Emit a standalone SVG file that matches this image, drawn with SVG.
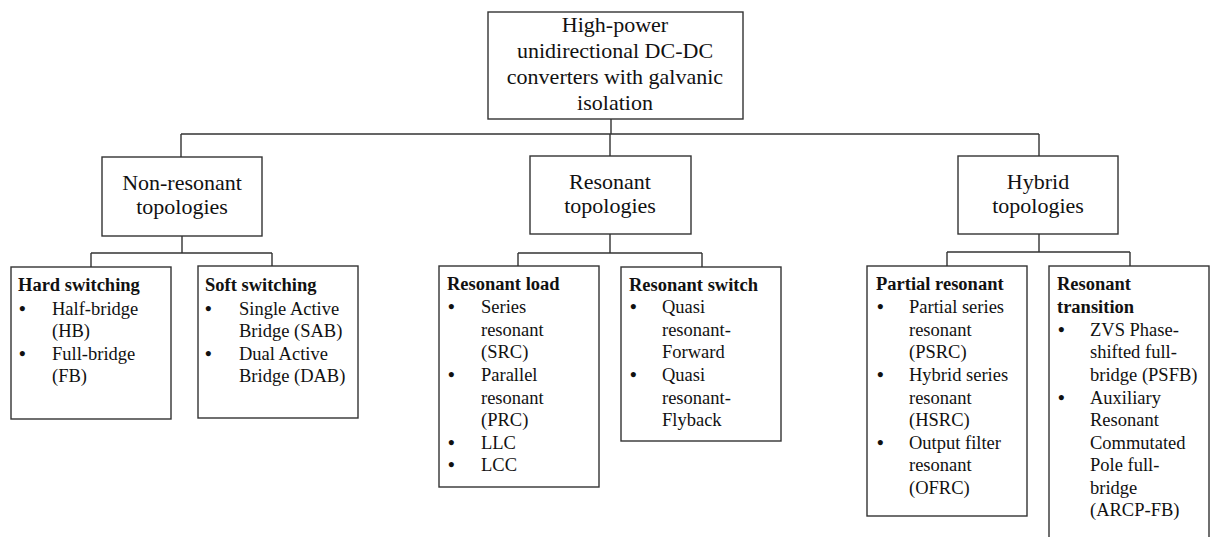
<svg xmlns="http://www.w3.org/2000/svg" width="1216" height="537" viewBox="0 0 1216 537">
<style>
.box{fill:#fff;stroke:#333;stroke-width:1.4}
.ln{fill:none;stroke:#333;stroke-width:1.4}
text{font-family:"Liberation Serif","Times New Roman",serif;fill:#111}
.big{font-size:22px;text-anchor:middle}
.leaf{font-size:18.5px}
.hd{font-weight:bold}
.bl{font-size:19px;font-weight:bold}
</style>
<rect width="1216" height="537" fill="#fff"/>
<g id="connectors">
<path class="ln" d="M611,119 V134 M181,134 H1039 M181,134 V157 M610,134 V156 M1039,134 V156"/>
<path class="ln" d="M182,236 V253 M91,253 H272 M91,253 V267 M272,253 V266"/>
<path class="ln" d="M610,234 V253 M518,253 H702 M518,253 V266 M702,253 V267"/>
<path class="ln" d="M1039,234 V252 M947,252 H1130 M947,252 V266 M1130,252 V266"/>
</g>
<g id="root">
<rect class="box" x="488" y="12" width="255" height="107"/>
<text class="big" x="615" y="32">High-power</text>
<text class="big" x="615" y="58">unidirectional DC-DC</text>
<text class="big" x="615" y="84">converters with galvanic</text>
<text class="big" x="615" y="110">isolation</text>
</g>
<g id="nonresonant">
<rect class="box" x="102" y="157" width="160" height="79"/>
<text class="big" x="182" y="190">Non-resonant</text>
<text class="big" x="182" y="214">topologies</text>
</g>
<g id="resonant">
<rect class="box" x="530" y="156" width="161" height="78"/>
<text class="big" x="610" y="189">Resonant</text>
<text class="big" x="610" y="213">topologies</text>
</g>
<g id="hybrid">
<rect class="box" x="958" y="156" width="160" height="78"/>
<text class="big" x="1038" y="189">Hybrid</text>
<text class="big" x="1038" y="213">topologies</text>
</g>
<g id="hard">
<rect class="box" x="11" y="267" width="160" height="152"/>
<text class="leaf hd" x="18" y="291">Hard switching</text>
<text class="bl" x="19" y="315">•</text><text class="leaf" x="52" y="315">Half-bridge</text>
<text class="leaf" x="52" y="337">(HB)</text>
<text class="bl" x="19" y="360">•</text><text class="leaf" x="52" y="360">Full-bridge</text>
<text class="leaf" x="52" y="382">(FB)</text>
</g>
<g id="soft">
<rect class="box" x="198" y="266" width="160" height="152"/>
<text class="leaf hd" x="205" y="291">Soft switching</text>
<text class="bl" x="205" y="315">•</text><text class="leaf" x="239" y="315">Single Active</text>
<text class="leaf" x="239" y="337">Bridge (SAB)</text>
<text class="bl" x="205" y="360">•</text><text class="leaf" x="239" y="360">Dual Active</text>
<text class="leaf" x="239" y="382">Bridge (DAB)</text>
</g>
<g id="resload">
<rect class="box" x="439" y="266" width="160" height="221"/>
<text class="leaf hd" x="447" y="290">Resonant load</text>
<text class="bl" x="448" y="313">•</text><text class="leaf" x="481" y="313">Series</text>
<text class="leaf" x="481" y="336">resonant</text>
<text class="leaf" x="481" y="358">(SRC)</text>
<text class="bl" x="448" y="381">•</text><text class="leaf" x="481" y="381">Parallel</text>
<text class="leaf" x="481" y="404">resonant</text>
<text class="leaf" x="481" y="426">(PRC)</text>
<text class="bl" x="448" y="449">•</text><text class="leaf" x="481" y="449">LLC</text>
<text class="bl" x="448" y="471">•</text><text class="leaf" x="481" y="471">LCC</text>
</g>
<g id="resswitch">
<rect class="box" x="621" y="267" width="160" height="174"/>
<text class="leaf hd" x="629" y="291">Resonant switch</text>
<text class="bl" x="630" y="313">•</text><text class="leaf" x="662" y="313">Quasi</text>
<text class="leaf" x="662" y="336">resonant-</text>
<text class="leaf" x="662" y="358">Forward</text>
<text class="bl" x="630" y="381">•</text><text class="leaf" x="662" y="381">Quasi</text>
<text class="leaf" x="662" y="404">resonant-</text>
<text class="leaf" x="662" y="426">Flyback</text>
</g>
<g id="partial">
<rect class="box" x="867" y="266" width="160" height="250"/>
<text class="leaf hd" x="876" y="290">Partial resonant</text>
<text class="bl" x="877" y="313">•</text><text class="leaf" x="909" y="313">Partial series</text>
<text class="leaf" x="909" y="336">resonant</text>
<text class="leaf" x="909" y="358">(PSRC)</text>
<text class="bl" x="877" y="381">•</text><text class="leaf" x="909" y="381">Hybrid series</text>
<text class="leaf" x="909" y="404">resonant</text>
<text class="leaf" x="909" y="426">(HSRC)</text>
<text class="bl" x="877" y="449">•</text><text class="leaf" x="909" y="449">Output filter</text>
<text class="leaf" x="909" y="471">resonant</text>
<text class="leaf" x="909" y="494">(OFRC)</text>
</g>
<g id="transition">
<rect class="box" x="1049" y="266" width="160" height="290"/>
<text class="leaf hd" x="1057" y="290">Resonant</text>
<text class="leaf hd" x="1057" y="313">transition</text>
<text class="bl" x="1058" y="336">•</text><text class="leaf" x="1090" y="336">ZVS Phase-</text>
<text class="leaf" x="1090" y="358">shifted full-</text>
<text class="leaf" x="1090" y="381">bridge (PSFB)</text>
<text class="bl" x="1058" y="404">•</text><text class="leaf" x="1090" y="404">Auxiliary</text>
<text class="leaf" x="1090" y="426">Resonant</text>
<text class="leaf" x="1090" y="449">Commutated</text>
<text class="leaf" x="1090" y="471">Pole full-</text>
<text class="leaf" x="1090" y="494">bridge</text>
<text class="leaf" x="1090" y="516">(ARCP-FB)</text>
</g>
</svg>
